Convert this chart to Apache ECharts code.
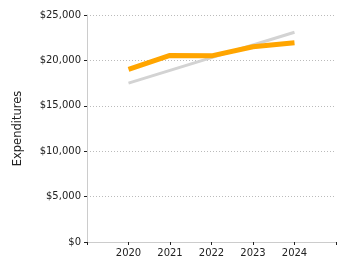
<!DOCTYPE html>
<html>
<head>
<meta charset="utf-8">
<script src="https://cdn.jsdelivr.net/npm/echarts@6/dist/echarts.min.js"></script>
<style>
  html, body { margin: 0; padding: 0; background: #fff; }
  #chart { width: 350px; height: 275px; }
</style>
</head>
<body>
<div id="chart"></div>
<script>
// years shown on the x axis
const years = [2020, 2021, 2022, 2023, 2024];
// orange series
const expenditures = [19000, 20550, 20500, 21500, 21950];
// gray trend line
const trend = [17500, 18900, 20300, 21700, 23100];

const chart = echarts.init(document.getElementById('chart'));

const labelStyle = { color: '#222', fontFamily: 'DejaVu Sans', fontSize: 10 };

chart.setOption({
  animation: false,
  grid: { left: 87, right: 14, top: 15, bottom: 33 },
  xAxis: {
    type: 'value',
    min: 2019,
    max: 2025,
    interval: 1,
    axisLine: { lineStyle: { color: '#ccc' } },
    axisTick: { show: true, length: 3, lineStyle: { color: '#222' } },
    axisLabel: {
      ...labelStyle,
      margin: 6,
      showMinLabel: true,
      showMaxLabel: true,
      formatter: v => (years.includes(v) ? String(v) : '')
    },
    splitLine: { show: false }
  },
  yAxis: {
    type: 'value',
    min: 0,
    max: 25000,
    interval: 5000,
    name: 'Expenditures',
    nameLocation: 'middle',
    nameGap: 63,
    nameTextStyle: { color: '#222', fontFamily: 'DejaVu Sans', fontSize: 11.5 },
    axisLine: { show: true, lineStyle: { color: '#ccc' } },
    axisTick: { show: true, length: 3, lineStyle: { color: '#222' } },
    axisLabel: {
      ...labelStyle,
      margin: 6,
      formatter: v => '$' + v.toLocaleString('en-US')
    },
    splitLine: { lineStyle: { color: '#bbb', type: [1, 2] } }
  },
  series: [
    {
      type: 'line',
      data: years.map((y, i) => [y, trend[i]]),
      symbol: 'none',
      lineStyle: { color: '#d3d3d3', width: 3 },
      z: 2
    },
    {
      type: 'line',
      data: years.map((y, i) => [y, expenditures[i]]),
      symbol: 'none',
      lineStyle: { color: '#ffa500', width: 5 },
      z: 3
    }
  ]
});
</script>
</body>
</html>
